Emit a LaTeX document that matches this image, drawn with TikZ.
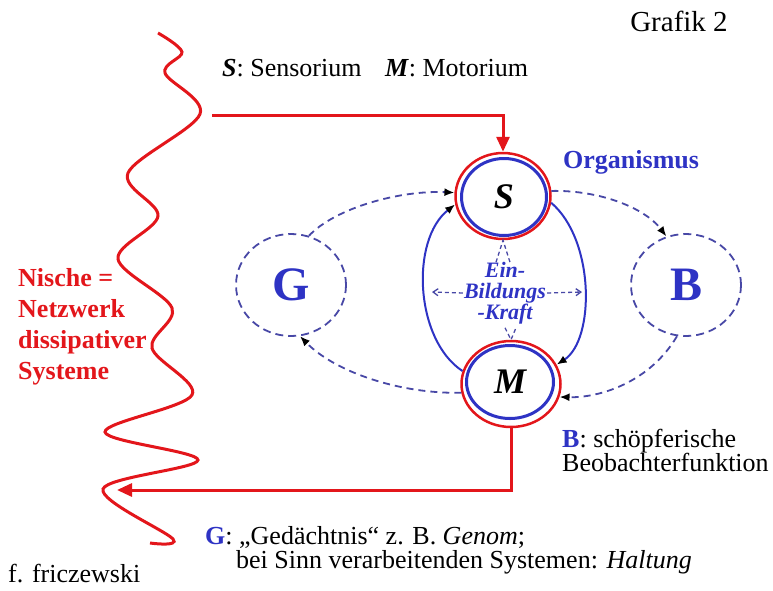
\documentclass[tikz,border=0pt]{standalone}
\usepackage{fontspec}
\setmainfont{Liberation Serif}
\usetikzlibrary{positioning, arrows.meta, shapes.geometric, calc}
\definecolor{nicheRed}{HTML}{E3161B}
\definecolor{orgBlue}{HTML}{2E33C4}
\definecolor{gbBlue}{HTML}{4848A6}
\tikzset{
  lbl/.style={inner sep=0pt, font=\fontsize{26}{24}\selectfont, align=left},
  redln/.style={draw=nicheRed, line width=3pt},
  redarr/.style={redln, -{Triangle[length=15pt, width=13pt]}},
  ring/.style={ellipse, draw=nicheRed, line width=2.5pt, inner sep=0pt},
  organ/.style={ellipse, draw=orgBlue, line width=3pt, inner sep=0pt,
                font=\fontsize{36}{36}\selectfont\bfseries\itshape},
  gbcirc/.style={ellipse, draw=gbBlue, line width=1.8pt, dash pattern=on 8pt off 5pt,
                 minimum width=110pt, minimum height=102pt, text=orgBlue,
                 font=\fontsize{48}{48}\selectfont\bfseries},
  gbflow/.style={draw=gbBlue, line width=1.8pt, dash pattern=on 7pt off 5pt,
                 -{Latex[color=black, length=10pt, width=8pt]}},
  bow/.style={draw=orgBlue, line width=2pt, -{Latex[color=black, length=10pt, width=8pt]}},
  kraft/.style={draw=gbBlue, line width=1.3pt, dash pattern=on 4pt off 3pt},
}

\begin{document}
\begin{tikzpicture}[x=1pt, y=-1pt]
  \useasboundingbox (0,0) rectangle (773,590);
  % titles
  \node[lbl, font=\fontsize{29}{29}\selectfont] (grafik) at (679,21) {Grafik 2};
  \node[lbl, anchor=west] (legSM) at (222,68) {\textbf{\textit{S}}: Sensorium\hspace{0.9em}\textbf{\textit{M}}: Motorium};
  % organism: sensorium and motorium
  \node[ring, minimum width=95pt, minimum height=86pt] (S) at (503,196) {};
  \node[organ, minimum width=85pt, minimum height=77pt] (Sin) at (504,197) {S};
  \node[ring, minimum width=99pt, minimum height=86pt] (M) at (511,384) {};
  \node[organ, minimum width=87pt, minimum height=73pt] (Min) at (510,382) {M};
  \node[lbl, anchor=west, text=orgBlue, font=\fontsize{26}{24}\selectfont\bfseries] (org) at (563,162) {Organismus};
  % memory and observer
  \node[gbcirc] (G) at (291,285) {G};
  \node[gbcirc] (B) at (686,285) {B};
  % the outer cycle
  \draw[gbflow] (G.70) .. controls (335,208) and (400,190) .. (S.176);
  \draw[gbflow] (S.6) .. controls (600,190) and (645,208) .. (B.112);
  \draw[gbflow] (B.-100) .. controls (650,382) and (600,398) .. (M.-15);
  \draw[gbflow] (M.190) .. controls (400,394) and (335,372) .. (G.-80);
  % inner loop
  \draw[bow] (M.165) .. controls (415,340) and (410,240) .. (S.190);
  \draw[bow] (S.-8) .. controls (595,240) and (595,340) .. (M.23);
  % Ein-Bildungs-Kraft
  \node[align=center, inner sep=1pt, text=orgBlue, font=\fontsize{22}{21}\selectfont\bfseries\itshape] (kraft) at (505,293) {Ein-\\Bildungs\\-Kraft};
  \coordinate (kL) at (432,292);
  \coordinate (kR) at (582,292);
  \draw[kraft, -{Straight Barb[length=5pt, width=7pt]}] (kraft.west) -- (kL);
  \draw[kraft, -{Straight Barb[length=5pt, width=7pt]}] (kraft.east) -- (kR);
  \draw[kraft] ($(S.south)+(-7,22)$) -- (S.south) -- ($(S.south)+(7,22)$);
  \draw[kraft] ($(M.north)+(-6,-12)$) -- (M.north) -- ($(M.north)+(5,-12)$);
  % niche
  \draw[redln] plot[smooth, tension=0.55] coordinates {(158,33) (182,52) (165,73) (200,114)
    (128,173) (158,216) (118,259) (172,308) (152,348) (192,395) (105,432) (198,460)
    (103,489) (173,539) (150,543)};
  \node[lbl, anchor=west, text=nicheRed, font=\fontsize{26}{31}\selectfont\bfseries] (nische) at (18,327) {Nische =\\Netzwerk\\dissipativer\\Systeme};
  \coordinate (ntop) at (212,115);
  \coordinate (nbot) at (117,490);
  \draw[redarr] (ntop) -| (S.north);
  \draw[redarr] (M.south) |- (nbot);
  % legends
  \node[lbl, anchor=west] (legB) at (562,450) {\textcolor{orgBlue}{\textbf{B}}: schöpferische\\Beobachterfunktion};
  \node[lbl, anchor=west] (legG) at (205,550) {\textcolor{orgBlue}{\textbf{G}}: „Gedächtnis“ z. B. \textit{Genom};\\\hspace*{31pt}bei Sinn verarbeitenden Systemen: \textit{Haltung}};
  \node[lbl, anchor=west] (author) at (8,574) {f. friczewski};
\end{tikzpicture}
\end{document}
